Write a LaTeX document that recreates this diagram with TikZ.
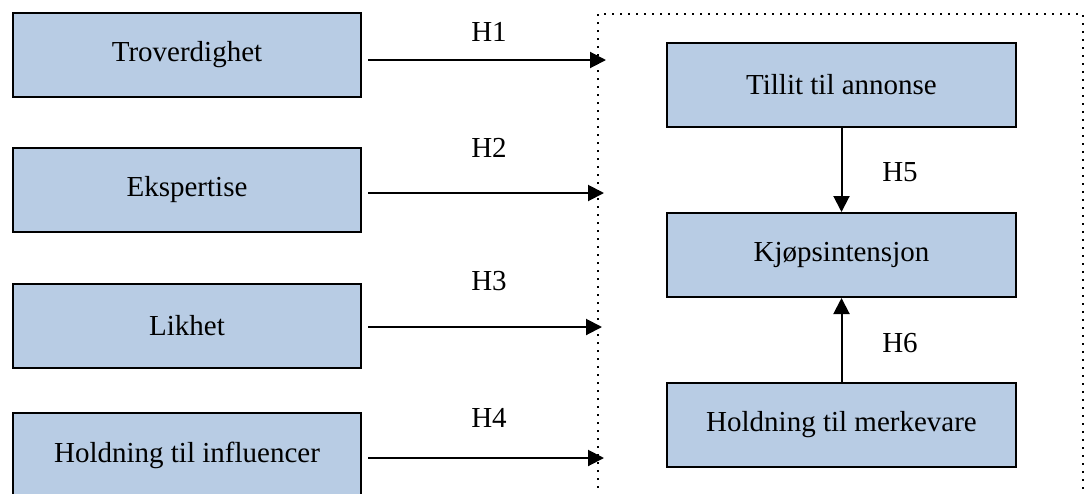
\documentclass[tikz,border=0pt]{standalone}
\usepackage{fontspec}
\setmainfont{Liberation Serif}
\usetikzlibrary{arrows.meta,calc}
\definecolor{boxblue}{RGB}{184,204,228}
\begin{document}
\begin{tikzpicture}[x=1pt,y=-1pt,
  box/.style={draw=black,line width=2pt,fill=boxblue,minimum width=348pt,minimum height=84pt,inner sep=0pt,font=\fontsize{29}{34}\selectfont},
  arr/.style={line width=2pt,-{Triangle[length=16pt,width=16pt]}},
  lbl/.style={font=\fontsize{29}{34}\selectfont,inner sep=0pt},
  frame/.style={line width=1.8pt,dash pattern=on 1.8pt off 6.2pt}]
\useasboundingbox (0,0) rectangle (1089,493);
\clip (0,0) rectangle (1089,493);
% left boxes
\node[box] (b1) at (187,55) {Troverdighet};
\node[box] (b2) at (187,190) {Ekspertise};
\node[box] (b3) at (187,326) {Likhet};
\node[box] (b4) at (187,455) {Holdning til influencer};
% right boxes
\node[box,minimum width=349pt] (r1) at (841.5,85) {Tillit til annonse};
\node[box,minimum width=349pt] (r2) at (841.5,255) {Kjøpsintensjon};
\node[box,minimum width=349pt] (r3) at (841.5,424.5) {Holdning til merkevare};
% dotted frame
\coordinate (fbl) at (598,520);
\coordinate (ftl) at (598,14);
\coordinate (ftr) at (1083,14);
\coordinate (fbr) at (1083,520);
\draw[frame] (fbl) -- (ftl) -- (ftr) -- (fbr);
% arrow tips
\coordinate (t1) at (606,60);
\coordinate (t2) at (604,193);
\coordinate (t3) at (602,327);
\coordinate (t4) at (604,458);
\draw[arr] ($(b1.east|-t1)+(6,0)$) -- (t1);
\draw[arr] ($(b2.east|-t2)+(6,0)$) -- (t2);
\draw[arr] ($(b3.east|-t3)+(6,0)$) -- (t3);
\draw[arr] ($(b4.east|-t4)+(6,0)$) -- (t4);
\draw[arr] (r1) -- (r2);
\draw[arr] (r3) -- (r2);
% labels
\node[lbl] (h1) at (489,32) {H1};
\node[lbl] (h2) at (489,148) {H2};
\node[lbl] (h3) at (489,281) {H3};
\node[lbl] (h4) at (489,418) {H4};
\node[lbl] (h5) at (900,172) {H5};
\node[lbl] (h6) at (900,343) {H6};
\end{tikzpicture}
\end{document}
